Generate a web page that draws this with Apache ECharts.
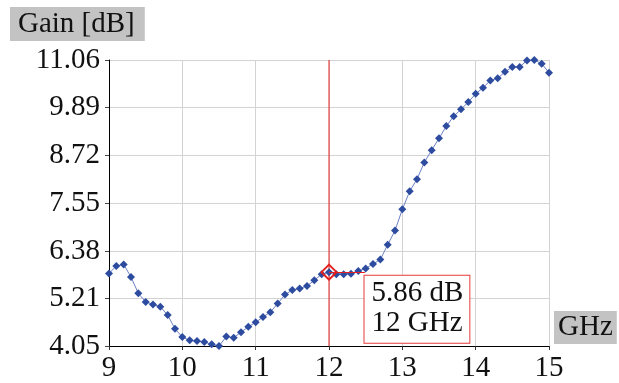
<!DOCTYPE html>
<html><head><meta charset="utf-8">
<script src="https://cdn.jsdelivr.net/npm/echarts@6/dist/echarts.min.js"></script>
<style>html,body{margin:0;padding:0;background:#fff}#c{width:619px;height:383px}</style>
</head><body><div id="c"></div>
<script>
const freqGHz = [9.0,9.1,9.2,9.3,9.4,9.5,9.6,9.7,9.8,9.9,
  10.0,10.1,10.2,10.3,10.4,10.5,10.6,10.7,10.8,10.9,
  11.0,11.1,11.2,11.3,11.4,11.5,11.6,11.7,11.8,11.9,
  12.0,12.1,12.2,12.3,12.4,12.5,12.6,12.7,12.8,12.9,
  13.0,13.1,13.2,13.3,13.4,13.5,13.6,13.7,13.8,13.9,
  14.0,14.1,14.2,14.3,14.4,14.5,14.6,14.7,14.8,14.9,15.0];
const gainDb = [5.83,6.01,6.05,5.74,5.34,5.13,5.07,5.01,4.81,4.47,
  4.27,4.19,4.17,4.15,4.09,4.05,4.28,4.25,4.39,4.52,
  4.63,4.76,4.88,5.09,5.31,5.42,5.46,5.52,5.66,5.81,
  5.86,5.81,5.81,5.82,5.89,5.95,6.06,6.17,6.53,6.88,
  7.40,7.84,8.14,8.55,8.85,9.14,9.44,9.68,9.85,10.03,
  10.23,10.38,10.56,10.61,10.77,10.89,10.89,11.05,11.06,10.97,10.75];
const yTickLabels = ['4.05','5.21','6.38','7.55','8.72','9.89','11.06'];
const xTickLabels = ['9','10','11','12','13','14','15'];
const cursorFreq = 12;
const cursorGain = 5.86;
const yAxisTitle = 'Gain [dB]';
const xAxisTitle = 'GHz';

const FONT = 'Liberation Serif';
const TXT = '#111';
const RED = '#e3201f';
const yTickValues = yTickLabels.map(Number);
const xTickValues = xTickLabels.map(Number);
const yMin = yTickValues[0], yMax = yTickValues[yTickValues.length - 1];

const chart = echarts.init(document.getElementById('c'), null, {renderer: 'canvas'});
chart.setOption({
  animation: false,
  backgroundColor: '#fff',
  grid: {left: 109, right: 70, top: 60, bottom: 37, containLabel: false},
  xAxis: {
    type: 'value', min: xTickValues[0], max: xTickValues[xTickValues.length - 1], interval: 1,
    axisLine: {show: true, onZero: false, lineStyle: {color: '#000', width: 1}},
    axisTick: {show: true, length: 4, lineStyle: {color: '#333'}},
    axisLabel: {fontSize: 29, fontFamily: FONT, color: TXT, margin: 8,
      formatter: (v, i) => xTickLabels[i] !== undefined ? xTickLabels[i] : String(v)},
    splitLine: {show: true, lineStyle: {color: '#d3d3d3', width: 1}}
  },
  yAxis: {
    type: 'value', min: yMin, max: yMax,
    axisLine: {show: true, onZero: false, lineStyle: {color: '#000', width: 1}},
    axisTick: {show: true, length: 4, lineStyle: {color: '#444'}, customValues: yTickValues},
    axisLabel: {fontSize: 29, fontFamily: FONT, color: TXT, margin: 9, customValues: yTickValues,
      formatter: (v) => { const i = yTickValues.indexOf(v); return i >= 0 ? yTickLabels[i] : v.toFixed(2); }},
    splitLine: {show: true, lineStyle: {color: '#d3d3d3', width: 1}}
  },
  series: [
    {
      name: 'CursorLine', type: 'line',
      data: [[cursorFreq, yMin], [cursorFreq, yMax]],
      symbol: 'none', silent: true,
      lineStyle: {color: RED, width: 1},
      itemStyle: {color: RED},
      z: 2
    },
    {
      name: 'Gain', type: 'line',
      data: freqGHz.map((f, i) => [f, gainDb[i]]),
      symbol: 'diamond', symbolSize: 8, showSymbol: true,
      lineStyle: {color: '#6c80c4', width: 1},
      itemStyle: {color: '#2d4b9f'},
      z: 3
    },
    {
      name: 'Cursor', type: 'scatter',
      data: [[cursorFreq, cursorGain]],
      symbol: 'diamond', symbolSize: 15,
      itemStyle: {color: 'rgba(0,0,0,0)', borderColor: RED, borderWidth: 2, opacity: 1},
      z: 5,
      label: {
        show: true, position: [44, 12], align: 'left', verticalAlign: 'top',
        formatter: (p) => p.value[1].toFixed(2) + ' dB\n' + p.value[0] + ' GHz',
        fontSize: 29, fontFamily: FONT, color: TXT, lineHeight: 30, opacity: 1,
        textBorderWidth: 0,
        backgroundColor: '#fff', borderColor: '#e53a3a', borderWidth: 1,
        padding: [3, 6, 4, 7]
      },
      markLine: {
        silent: true, symbol: 'none', animation: false,
        label: {show: false},
        lineStyle: {color: RED, width: 1, type: 'solid', opacity: 1},
        data: [
          [{coord: [cursorFreq, cursorGain]}, {coord: [cursorFreq + 0.49, cursorGain]}]
        ]
      }
    }
  ],
  graphic: [
    {type: 'text', left: 10, top: 7, z: 10,
      style: {text: yAxisTitle, font: '29px "Liberation Serif"', fill: TXT,
        backgroundColor: '#c3c3c3', padding: [2, 10, 2, 8], lineHeight: 30}},
    {type: 'text', left: 554, top: 311, z: 10,
      style: {text: xAxisTitle, font: '29px "Liberation Serif"', fill: TXT,
        backgroundColor: '#c3c3c3', padding: [1, 4, 2, 4], lineHeight: 30}}
  ]
});
</script>
</body></html>
